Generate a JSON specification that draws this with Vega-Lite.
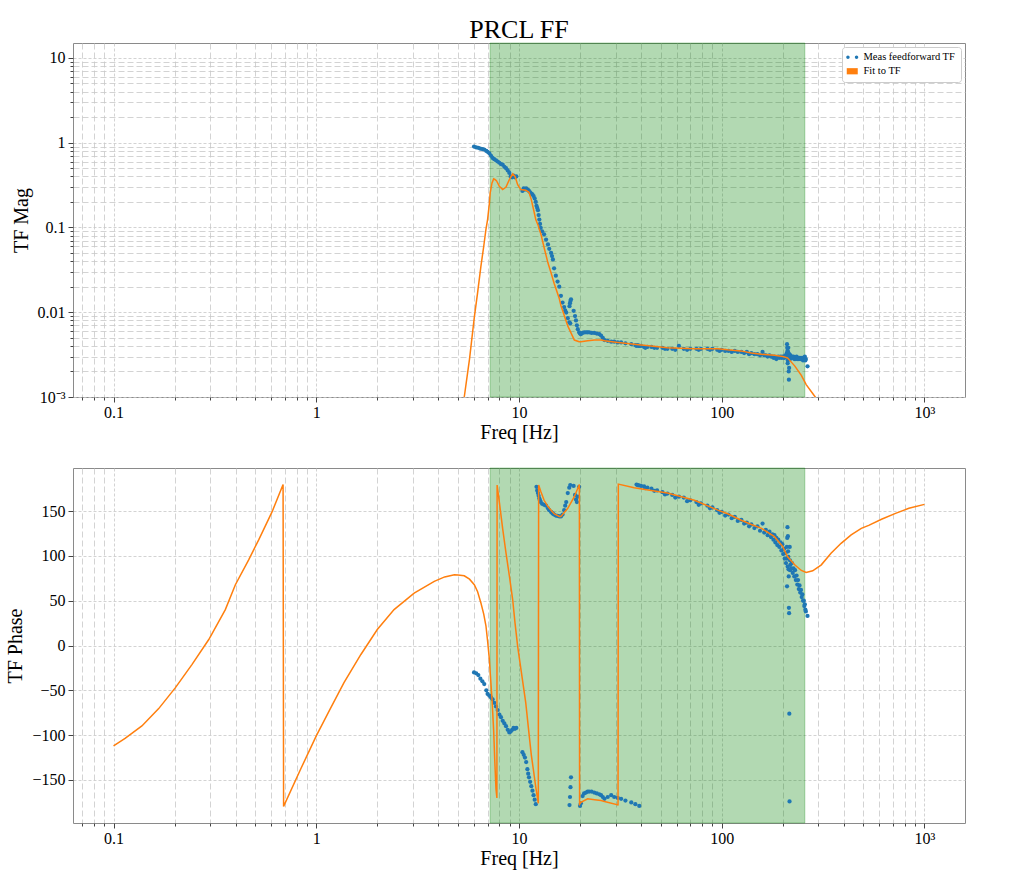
{
"$schema": "https://vega.github.io/schema/vega-lite/v6.json",
"padding": {"left": 5, "top": 16, "right": 5, "bottom": 5},
"background": "white",
"config": {
  "font": "Liberation Serif",
  "view": {"stroke": "#8a8a8a", "strokeWidth": 1},
  "axis": {"domain": false, "labelFont": "Liberation Serif", "labelFontSize": 16, "labelColor": "#000", "titleFont": "Liberation Serif", "titleFontSize": 20, "titleFontWeight": "normal", "titleColor": "#000", "gridColor": "#c8c8c8", "gridWidth": 0.8, "tickColor": "#444", "labelOverlap": false, "labelFlush": false, "labelBound": false},
  "axisX": {"labelPadding": 2, "titlePadding": 2, "labelFont": "Liberation Serif"},
  "axisY": {"labelPadding": 3, "titlePadding": 6, "labelFont": "Liberation Serif"}
},
"datasets": {
  "span": [{"freq": 7.2, "freq_hi": 257}],
  "legend": [{"series": "Meas feedforward TF"}, {"series": "Fit to TF"}],
  "fit": [
{"freq":0.1,"mag":0.00001,"phase":-112},{"freq":0.114,"mag":0.00001,"phase":-103.7},{"freq":0.138,"mag":0.00001,"phase":-89.7},{"freq":0.167,"mag":0.00001,"phase":-70.4},{"freq":0.202,"mag":0.00001,"phase":-47},{"freq":0.244,"mag":0.00001,"phase":-21},{"freq":0.295,"mag":0.00001,"phase":6.7},{"freq":0.356,"mag":0.00001,"phase":40},{"freq":0.399,"mag":0.00001,"phase":67.8},{"freq":0.464,"mag":0.00001,"phase":95.6},{"freq":0.52,"mag":0.00001,"phase":117.8},{"freq":0.605,"mag":0.00001,"phase":149},{"freq":0.686,"mag":0.00001,"phase":179.5},{"freq":0.69,"mag":0.00001,"phase":-179.5},{"freq":0.838,"mag":0.00001,"phase":-137.8},{"freq":1.0,"mag":0.00001,"phase":-100.8},{"freq":1.17,"mag":0.00001,"phase":-71},{"freq":1.37,"mag":0.00001,"phase":-41.4},{"freq":1.66,"mag":0.00001,"phase":-10},{"freq":2.0,"mag":0.00001,"phase":17.8},{"freq":2.42,"mag":0.00001,"phase":40},{"freq":3.04,"mag":0.00001,"phase":58.5},{"freq":3.82,"mag":0.00001,"phase":71.5},{"freq":4.3,"mag":0.00002,"phase":76.5},{"freq":4.8,"mag":0.00015,"phase":78.9},{"freq":5.0,"mag":0.00035,"phase":78.7},{"freq":5.37,"mag":0.001,"phase":77.8},{"freq":5.7,"mag":0.0028,"phase":74},{"freq":6.02,"mag":0.0087,"phase":67.8},{"freq":6.25,"mag":0.017,"phase":60},{"freq":6.49,"mag":0.035,"phase":47.4},{"freq":6.7,"mag":0.06,"phase":35},{"freq":6.87,"mag":0.095,"phase":22},{"freq":7.0,"mag":0.124,"phase":5},{"freq":7.14,"mag":0.19,"phase":-15},{"freq":7.21,"mag":0.256,"phase":-30},{"freq":7.36,"mag":0.336,"phase":-60},{"freq":7.5,"mag":0.374,"phase":-95},{"freq":7.6,"mag":0.368,"phase":-130},{"freq":7.7,"mag":0.36,"phase":-160},{"freq":7.78,"mag":0.35,"phase":-170},{"freq":7.8,"mag":0.345,"phase":179},{"freq":8.0,"mag":0.306,"phase":160},{"freq":8.31,"mag":0.28,"phase":130},{"freq":8.63,"mag":0.3,"phase":103},{"freq":8.96,"mag":0.367,"phase":78},{"freq":9.31,"mag":0.43,"phase":51},{"freq":9.56,"mag":0.4,"phase":25},{"freq":9.85,"mag":0.32,"phase":-1},{"freq":10.2,"mag":0.28,"phase":-25},{"freq":10.8,"mag":0.275,"phase":-64},{"freq":11.2,"mag":0.26,"phase":-98},{"freq":11.5,"mag":0.213,"phase":-122},{"freq":11.8,"mag":0.163,"phase":-140},{"freq":12.1,"mag":0.124,"phase":-158},{"freq":12.45,"mag":0.105,"phase":-176},{"freq":12.5,"mag":0.1,"phase":179},{"freq":12.8,"mag":0.085,"phase":172},{"freq":13.3,"mag":0.058,"phase":162},{"freq":13.9,"mag":0.038,"phase":155},{"freq":14.4,"mag":0.029,"phase":151},{"freq":14.9,"mag":0.022,"phase":147},{"freq":15.8,"mag":0.0145,"phase":144},{"freq":16.1,"mag":0.012,"phase":144},{"freq":17.4,"mag":0.0069,"phase":153},{"freq":18.75,"mag":0.0047,"phase":166},{"freq":19.8,"mag":0.0045,"phase":179},{"freq":19.85,"mag":0.0045,"phase":179.5},{"freq":19.9,"mag":0.0045,"phase":-177},{"freq":20.2,"mag":0.0045,"phase":-175},{"freq":21.8,"mag":0.0046,"phase":-171},{"freq":23.6,"mag":0.0047,"phase":-172},{"freq":25.4,"mag":0.0047,"phase":-173},{"freq":26.4,"mag":0.0046,"phase":-174},{"freq":30.7,"mag":0.0044,"phase":-177.8},{"freq":30.8,"mag":0.0044,"phase":-178.5},{"freq":30.9,"mag":0.0044,"phase":180},{"freq":37,"mag":0.0042,"phase":176},{"freq":44.9,"mag":0.004,"phase":173},{"freq":54,"mag":0.0038,"phase":170},{"freq":73.4,"mag":0.0037,"phase":162},{"freq":95.7,"mag":0.0037,"phase":151},{"freq":107,"mag":0.0036,"phase":147},{"freq":124,"mag":0.0035,"phase":140},{"freq":140,"mag":0.0033,"phase":135},{"freq":157,"mag":0.0032,"phase":130.7},{"freq":182,"mag":0.0031,"phase":121.4},{"freq":200,"mag":0.003,"phase":110.3},{"freq":211,"mag":0.0029,"phase":99.2},{"freq":229,"mag":0.00233,"phase":90},{"freq":247,"mag":0.0018,"phase":83.7},{"freq":261,"mag":0.0014,"phase":81.5},{"freq":281,"mag":0.0011,"phase":83.3},{"freq":310,"mag":0.0008,"phase":90},{"freq":346,"mag":0.0005,"phase":103},{"freq":388,"mag":0.0004,"phase":114},{"freq":435,"mag":0.0003,"phase":123.3},{"freq":488,"mag":0.0002,"phase":130.7},{"freq":531,"mag":0.00015,"phase":134},{"freq":614,"mag":0.0001,"phase":140.8},{"freq":720,"mag":0.00007,"phase":147.4},{"freq":838,"mag":0.00005,"phase":153},{"freq":1000,"mag":0.00003,"phase":157.4}
  ],
  "meas": [
{"freq":6.0,"mag":0.9,"phase":-30},{"freq":6.15,"mag":0.88,"phase":-31},{"freq":6.3,"mag":0.87,"phase":-33},{"freq":6.45,"mag":0.85,"phase":-37},{"freq":6.6,"mag":0.84,"phase":-40},{"freq":6.74,"mag":0.83,"phase":-43},{"freq":6.9,"mag":0.8,"phase":-50},{"freq":7.0,"mag":0.78,"phase":-54},{"freq":7.14,"mag":0.75,"phase":-56},{"freq":7.28,"mag":0.7,"phase":-58},{"freq":7.41,"mag":0.66,"phase":-60},{"freq":7.55,"mag":0.64,"phase":-64},{"freq":7.7,"mag":0.62,"phase":-68},{"freq":7.85,"mag":0.6,"phase":-72},{"freq":8.0,"mag":0.58,"phase":-77},{"freq":8.15,"mag":0.56,"phase":-80},{"freq":8.31,"mag":0.55,"phase":-84},{"freq":8.47,"mag":0.52,"phase":-87},{"freq":8.63,"mag":0.5,"phase":-90},{"freq":8.8,"mag":0.47,"phase":-94},{"freq":8.96,"mag":0.44,"phase":-97},{"freq":9.1,"mag":0.4,"phase":-96},{"freq":9.25,"mag":0.39,"phase":-94},{"freq":9.4,"mag":0.41,"phase":-92},{"freq":9.55,"mag":0.39,"phase":-93},{"freq":9.7,"mag":0.4,"phase":-92},
{"freq":10.4,"mag":0.27,"phase":-119},{"freq":10.55,"mag":0.29,"phase":-122},{"freq":10.7,"mag":0.28,"phase":-125},{"freq":10.85,"mag":0.29,"phase":-130},{"freq":11.0,"mag":0.28,"phase":-138},{"freq":11.1,"mag":0.275,"phase":-143},{"freq":11.2,"mag":0.27,"phase":-147},{"freq":11.35,"mag":0.26,"phase":-152},{"freq":11.5,"mag":0.25,"phase":-157},{"freq":11.65,"mag":0.245,"phase":-162},{"freq":11.8,"mag":0.235,"phase":-167},{"freq":11.95,"mag":0.22,"phase":-172},{"freq":12.1,"mag":0.2,"phase":-177},
{"freq":12.2,"mag":0.18,"phase":177},{"freq":12.3,"mag":0.17,"phase":173},{"freq":12.4,"mag":0.16,"phase":170},{"freq":12.5,"mag":0.14,"phase":167},{"freq":12.6,"mag":0.124,"phase":164},{"freq":12.7,"mag":0.11,"phase":162},{"freq":12.8,"mag":0.099,"phase":160},{"freq":13.0,"mag":0.09,"phase":158},{"freq":13.3,"mag":0.083,"phase":157},{"freq":13.6,"mag":0.072,"phase":156},{"freq":13.9,"mag":0.063,"phase":153},{"freq":14.1,"mag":0.056,"phase":151},{"freq":14.4,"mag":0.05,"phase":149},{"freq":14.55,"mag":0.046,"phase":148},{"freq":14.7,"mag":0.042,"phase":147},{"freq":14.9,"mag":0.033,"phase":146},{"freq":15.2,"mag":0.027,"phase":145},{"freq":15.5,"mag":0.023,"phase":144.5},{"freq":15.8,"mag":0.02,"phase":144},{"freq":16.1,"mag":0.0156,"phase":144},{"freq":16.4,"mag":0.013,"phase":146},{"freq":16.7,"mag":0.0115,"phase":151},{"freq":16.9,"mag":0.0105,"phase":156},{"freq":17.1,"mag":0.0099,"phase":160},{"freq":17.4,"mag":0.0085,"phase":170},{"freq":17.7,"mag":0.0076,"phase":176},{"freq":17.9,"mag":0.0074,"phase":179},
{"freq":17.75,"mag":0.0118,"phase":-178},{"freq":17.85,"mag":0.0128,"phase":-169},{"freq":17.95,"mag":0.0136,"phase":-158},{"freq":18.05,"mag":0.0142,"phase":-147},
{"freq":18.6,"mag":0.0104,"phase":178},{"freq":18.9,"mag":0.009,"phase":168},{"freq":19.1,"mag":0.008,"phase":163},{"freq":19.3,"mag":0.007,"phase":160},{"freq":19.5,"mag":0.0063,"phase":166},{"freq":19.8,"mag":0.0058,"phase":177},
{"freq":20.0,"mag":0.0056,"phase":-179},{"freq":20.2,"mag":0.0055,"phase":-176},{"freq":20.6,"mag":0.0057,"phase":-168},{"freq":20.95,"mag":0.0058,"phase":-165},{"freq":21.4,"mag":0.0058,"phase":-164},{"freq":21.8,"mag":0.0058,"phase":-163},{"freq":22.2,"mag":0.0058,"phase":-163},{"freq":22.8,"mag":0.0057,"phase":-163},{"freq":23.5,"mag":0.0057,"phase":-164},{"freq":24.2,"mag":0.0056,"phase":-165},{"freq":24.9,"mag":0.0055,"phase":-166},{"freq":25.4,"mag":0.0053,"phase":-167},{"freq":25.9,"mag":0.005,"phase":-169},{"freq":26.4,"mag":0.0047,"phase":-171},{"freq":27.4,"mag":0.0046,"phase":-169},{"freq":28.5,"mag":0.0045,"phase":-167},{"freq":29.5,"mag":0.0045,"phase":-169},{"freq":30.7,"mag":0.0044,"phase":-170},{"freq":31.9,"mag":0.0044,"phase":-171},{"freq":33.5,"mag":0.0043,"phase":-173},{"freq":35.8,"mag":0.0042,"phase":-175},{"freq":37.5,"mag":0.0041,"phase":-177},{"freq":39.2,"mag":0.004,"phase":-179},
{"freq":38.0,"mag":0.004,"phase":179.5},{"freq":38.5,"mag":0.0041,"phase":179},{"freq":39.0,"mag":0.004,"phase":178.5},{"freq":40,"mag":0.004,"phase":178},{"freq":41.4,"mag":0.0039,"phase":177.5},{"freq":43,"mag":0.0039,"phase":176},{"freq":45,"mag":0.0039,"phase":175},{"freq":48,"mag":0.0038,"phase":173},{"freq":51,"mag":0.0038,"phase":171},{"freq":54,"mag":0.0037,"phase":169.5},{"freq":57,"mag":0.0037,"phase":168},{"freq":61.5,"mag":0.004,"phase":166},{"freq":65,"mag":0.0037,"phase":165},{"freq":70,"mag":0.0037,"phase":162},{"freq":75,"mag":0.0037,"phase":160},{"freq":79,"mag":0.0037,"phase":158.5},{"freq":85,"mag":0.0037,"phase":156},{"freq":90,"mag":0.0037,"phase":154},{"freq":95,"mag":0.0036,"phase":151},{"freq":100,"mag":0.0036,"phase":149},{"freq":108,"mag":0.0035,"phase":146},{"freq":116,"mag":0.0035,"phase":143.5},{"freq":125,"mag":0.0034,"phase":140},{"freq":133,"mag":0.0034,"phase":137},{"freq":140,"mag":0.0033,"phase":135},{"freq":150,"mag":0.0032,"phase":133},{"freq":159,"mag":0.0034,"phase":136},{"freq":165,"mag":0.0031,"phase":129},{"freq":172,"mag":0.0031,"phase":127},{"freq":178,"mag":0.003,"phase":124},{"freq":182,"mag":0.003,"phase":123},{"freq":186,"mag":0.0028,"phase":120},{"freq":190,"mag":0.003,"phase":118},{"freq":195,"mag":0.003,"phase":115},{"freq":199,"mag":0.003,"phase":113},{"freq":203,"mag":0.003,"phase":108},{"freq":206,"mag":0.0031,"phase":103},{"freq":209,"mag":0.0031,"phase":97},{"freq":210,"mag":0.0042,"phase":66},{"freq":211,"mag":0.0035,"phase":132},{"freq":212,"mag":0.0027,"phase":122},{"freq":213,"mag":0.0038,"phase":99},{"freq":214,"mag":0.002,"phase":77},{"freq":214.5,"mag":0.0016,"phase":42},{"freq":215,"mag":0.0022,"phase":36},{"freq":215.5,"mag":0.0032,"phase":-76},{"freq":216,"mag":0.0029,"phase":-174},{"freq":216.5,"mag":0.0031,"phase":110},{"freq":217,"mag":0.003,"phase":95},{"freq":218,"mag":0.0031,"phase":90},{"freq":222,"mag":0.003,"phase":92},{"freq":226,"mag":0.003,"phase":86},{"freq":230,"mag":0.0029,"phase":84},{"freq":234,"mag":0.003,"phase":78},{"freq":238,"mag":0.0029,"phase":73},{"freq":242,"mag":0.0029,"phase":67},{"freq":246,"mag":0.0029,"phase":62},{"freq":250,"mag":0.0029,"phase":57},{"freq":254,"mag":0.0028,"phase":50},{"freq":257,"mag":0.003,"phase":46},{"freq":260,"mag":0.0028,"phase":38},{"freq":265,"mag":0.0023,"phase":33},
{"freq":42,"mag":0.0038,"phase":175.5},{"freq":46.5,"mag":0.0038,"phase":172.5},{"freq":52.5,"mag":0.0037,"phase":168.5},{"freq":59,"mag":0.0036,"phase":165},{"freq":67.5,"mag":0.0036,"phase":161},{"freq":77,"mag":0.0036,"phase":157},{"freq":87.5,"mag":0.0036,"phase":153},{"freq":97.5,"mag":0.0035,"phase":148},{"freq":104,"mag":0.0035,"phase":145},{"freq":112,"mag":0.0034,"phase":142},{"freq":120,"mag":0.0034,"phase":139},{"freq":129,"mag":0.0033,"phase":136},{"freq":136.5,"mag":0.0032,"phase":133},{"freq":145,"mag":0.0032,"phase":131},{"freq":154.5,"mag":0.0031,"phase":128},{"freq":162,"mag":0.0031,"phase":126},{"freq":168.5,"mag":0.003,"phase":123},{"freq":175,"mag":0.003,"phase":121},{"freq":180,"mag":0.0029,"phase":118},{"freq":184,"mag":0.0029,"phase":115},{"freq":188,"mag":0.0029,"phase":112},{"freq":192.5,"mag":0.0029,"phase":110},{"freq":197,"mag":0.0029,"phase":106},{"freq":201,"mag":0.0029,"phase":102},{"freq":204.5,"mag":0.0029,"phase":97},{"freq":207.5,"mag":0.003,"phase":92},{"freq":209.5,"mag":0.0033,"phase":110},{"freq":210.5,"mag":0.0038,"phase":120},{"freq":211.5,"mag":0.0025,"phase":88},{"freq":212.5,"mag":0.0034,"phase":105},{"freq":213.5,"mag":0.003,"phase":85},{"freq":217.5,"mag":0.0028,"phase":84},{"freq":220,"mag":0.0029,"phase":86},{"freq":224,"mag":0.0029,"phase":81},{"freq":228,"mag":0.0028,"phase":77},{"freq":232,"mag":0.0028,"phase":73},{"freq":236,"mag":0.0028,"phase":68},{"freq":240,"mag":0.0028,"phase":63},{"freq":244,"mag":0.0028,"phase":59},{"freq":248,"mag":0.0028,"phase":54},{"freq":252,"mag":0.0027,"phase":50},{"freq":255.5,"mag":0.0028,"phase":44},{"freq":258.5,"mag":0.0027,"phase":40}
  ]
},
"vconcat": [
 {
  "width": 892, "height": 354,
  "title": {"text": "PRCL FF", "frame": "group", "anchor": "middle", "fontSize": 26, "font": "Liberation Serif", "fontWeight": "normal", "color": "#000", "offset": 0},
  "layer": [
    {"data": {"name": "span"},
     "mark": {"type": "rect", "fill": "#008000", "fillOpacity": 0.3, "stroke": "#008000", "strokeOpacity": 0.3, "strokeWidth": 1},
     "encoding": {
       "x": {"field": "freq", "type": "quantitative",
         "scale": {"type": "log", "domain": [0.0631, 1585], "nice": false},
         "axis": {"title": "Freq [Hz]", "labelFont": "Liberation Serif",
           "values": [0.07,0.08,0.09,0.1,0.2,0.3,0.4,0.5,0.6,0.7,0.8,0.9,1,2,3,4,5,6,7,8,9,10,20,30,40,50,60,70,80,90,100,200,300,400,500,600,700,800,900,1000],
           "labelExpr": "datum.value == 0.1 ? '0.1' : datum.value == 1 ? '1' : datum.value == 10 ? '10' : datum.value == 100 ? '100' : datum.value == 1000 ? '10³' : ''",
           "gridDash": {"condition": {"test": "indexof([0.1,1,10,100,1000], datum.value) >= 0", "value": [3, 2]}, "value": [6, 3]},
           "tickSize": {"condition": {"test": "indexof([0.1,1,10,100,1000], datum.value) >= 0", "value": 5}, "value": 3}}},
       "x2": {"field": "freq_hi"}}},
    {"data": {"name": "meas"},
     "mark": {"type": "point", "filled": true, "size": 18, "opacity": 1, "strokeWidth": 0, "color": "#1f77b4"},
     "encoding": {
       "x": {"field": "freq", "type": "quantitative", "scale": {"type": "log", "domain": [0.0631, 1585], "nice": false}, "axis": {"title": "Freq [Hz]"}},
       "y": {"field": "mag", "type": "quantitative", "scale": {"type": "log", "domain": [0.001, 15], "nice": false},
         "axis": {"title": "TF Mag", "labelFont": "Liberation Serif",
           "values": [0.001,0.002,0.003,0.004,0.005,0.006,0.007,0.008,0.009,0.01,0.02,0.03,0.04,0.05,0.06,0.07,0.08,0.09,0.1,0.2,0.3,0.4,0.5,0.6,0.7,0.8,0.9,1,2,3,4,5,6,7,8,9,10],
           "labelExpr": "datum.value == 0.001 ? '10⁻³' : datum.value == 0.01 ? '0.01' : datum.value == 0.1 ? '0.1' : datum.value == 1 ? '1' : datum.value == 10 ? '10' : ''",
           "gridDash": {"condition": {"test": "indexof([0.001,0.01,0.1,1,10], datum.value) >= 0", "value": [3, 2]}, "value": [6, 3]},
           "tickSize": {"condition": {"test": "indexof([0.001,0.01,0.1,1,10], datum.value) >= 0", "value": 5}, "value": 3}}}
     }},
    {"data": {"name": "fit"},
     "mark": {"type": "line", "strokeWidth": 1.5, "clip": true, "color": "#ff7f0e"},
     "encoding": {
       "x": {"field": "freq", "type": "quantitative", "scale": {"type": "log", "domain": [0.0631, 1585], "nice": false}, "axis": {"title": "Freq [Hz]"}},
       "y": {"field": "mag", "type": "quantitative", "scale": {"type": "log", "domain": [0.001, 15], "nice": false}, "axis": {"title": "TF Mag"}}
     }},
    {"data": {"name": "legend"},
     "mark": {"type": "point", "filled": true, "size": 100, "opacity": 0},
     "encoding": {
       "color": {"field": "series", "type": "nominal",
         "scale": {"domain": ["Meas feedforward TF", "Fit to TF"], "range": ["#1f77b4", "#ff7f0e"]},
         "legend": {"title": null, "orient": "top-right", "offset": 4, "fillColor": "white", "strokeColor": "#cccccc", "padding": 5, "cornerRadius": 3, "labelFont": "Liberation Serif", "labelFontSize": 10.5, "labelColor": "#000", "rowPadding": 3, "symbolSize": 100, "labelOffset": 6, "symbolOpacity": 1, "symbolStrokeWidth": 0}},
       "shape": {"field": "series", "type": "nominal",
         "scale": {"domain": ["Meas feedforward TF", "Fit to TF"], "range": ["M -1.2,0 A 0.34,0.34 0 1,0 -0.52,0 A 0.34,0.34 0 1,0 -1.2,0 Z M 0.52,0 A 0.34,0.34 0 1,0 1.2,0 A 0.34,0.34 0 1,0 0.52,0 Z", "M -1.1,-0.62 H 1.1 V 0.62 H -1.1 Z"]},
         "legend": {"title": null, "orient": "top-right", "offset": 4, "fillColor": "white", "strokeColor": "#cccccc", "padding": 5, "cornerRadius": 3, "labelFont": "Liberation Serif", "labelFontSize": 10.5, "labelColor": "#000", "rowPadding": 3, "symbolSize": 100, "labelOffset": 6, "symbolOpacity": 1, "symbolStrokeWidth": 0}}
     }}
  ]
 },
 {
  "width": 892, "height": 355,
  "encoding": {
    "x": {"field": "freq", "type": "quantitative",
      "scale": {"type": "log", "domain": [0.0631, 1585], "nice": false},
      "axis": {"title": "Freq [Hz]", "labelFont": "Liberation Serif",
        "values": [0.07,0.08,0.09,0.1,0.2,0.3,0.4,0.5,0.6,0.7,0.8,0.9,1,2,3,4,5,6,7,8,9,10,20,30,40,50,60,70,80,90,100,200,300,400,500,600,700,800,900,1000],
        "labelExpr": "datum.value == 0.1 ? '0.1' : datum.value == 1 ? '1' : datum.value == 10 ? '10' : datum.value == 100 ? '100' : datum.value == 1000 ? '10³' : ''",
        "gridDash": {"condition": {"test": "indexof([0.1,1,10,100,1000], datum.value) >= 0", "value": [3, 2]}, "value": [6, 3]},
        "tickSize": {"condition": {"test": "indexof([0.1,1,10,100,1000], datum.value) >= 0", "value": 5}, "value": 3}
      }
    }
  },
  "layer": [
    {"data": {"name": "span"},
     "mark": {"type": "rect", "fill": "#008000", "fillOpacity": 0.3, "stroke": "#008000", "strokeOpacity": 0.3, "strokeWidth": 1},
     "encoding": {"x2": {"field": "freq_hi"}}},
    {"data": {"name": "meas"},
     "mark": {"type": "point", "filled": true, "size": 18, "opacity": 1, "strokeWidth": 0, "color": "#1f77b4"},
     "encoding": {
       "y": {"field": "phase", "type": "quantitative", "scale": {"domain": [-198, 198], "nice": false, "zero": false},
         "axis": {"title": "TF Phase", "labelFont": "Liberation Serif", "values": [-150,-100,-50,0,50,100,150], "labelExpr": "replace(format(datum.value, 'd'), '-', '−')", "gridDash": [3, 2], "tickSize": 5}}
     }},
    {"data": {"name": "fit"},
     "mark": {"type": "line", "strokeWidth": 1.5, "clip": true, "color": "#ff7f0e"},
     "encoding": {
       "y": {"field": "phase", "type": "quantitative", "scale": {"domain": [-198, 198], "nice": false, "zero": false}, "axis": {"title": "TF Phase"}}
     }}
  ]
 }
],
"spacing": 71,
"bounds": "flush",
"resolve": {"scale": {"color": "independent", "shape": "independent"}, "legend": {"color": "independent", "shape": "independent"}}
}
